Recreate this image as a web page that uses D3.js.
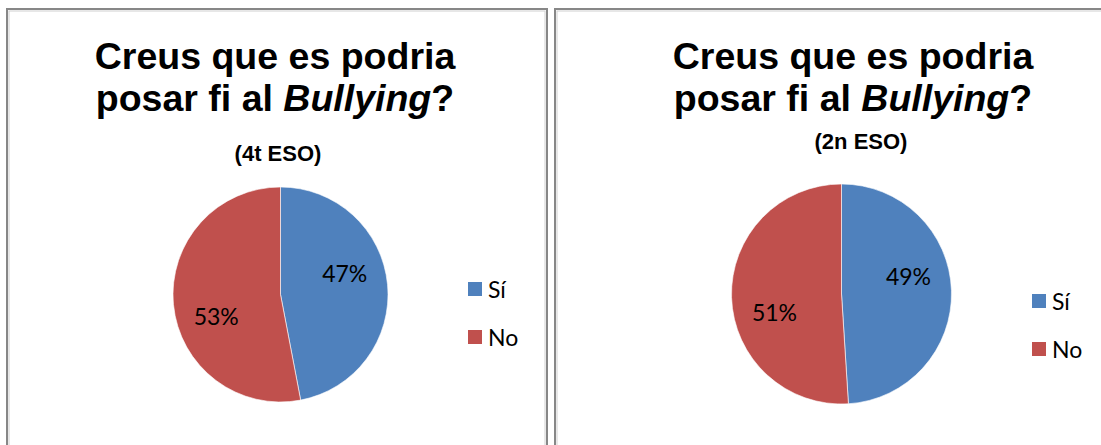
<!DOCTYPE html>
<html lang="ca">
<head>
<meta charset="UTF-8">
<title>Creus que es podria posar fi al Bullying?</title>
<style>
  body { margin: 0; background: #fff; }
  svg { display: block; }
</style>
</head>
<body>
<div class="chart"></div>
<script src="https://d3js.org/d3.v7.min.js"></script>
<script>
// data
var categories = ["Sí", "No"];
var values4t = [47, 53];
var values2n = [49, 51];
var groupLabels = ["(4t ESO)", "(2n ESO)"];
var titleLine1 = "Creus que es podria";
var titleLine2 = ["posar fi al ", "Bullying", "?"];

var colors = d3.scaleOrdinal().domain(categories).range(["#4F81BD", "#C0504D"]);

var width = 1101, height = 445;

var svg = d3.select(".chart").append("svg")
    .attr("width", width)
    .attr("height", height);

// one panel per course
var panels = [
  { x: 7, w: 540, values: values4t, sub: groupLabels[0],
    titleX: 275, subX: 278, subY: 161, cx: 280.5, cy: 294.5, r: 107.5, legX: 468, legY: 282 },
  { x: 555, w: 600, values: values2n, sub: groupLabels[1],
    titleX: 853, subX: 861, subY: 149, cx: 841.5, cy: 294, r: 110, legX: 1032, legY: 294 }
];

var pie = d3.pie().sort(null).value(function(d) { return d.value; });

panels.forEach(function(p) {
  var g = svg.append("g");

  // frame (dark line with a faint light edge inside)
  g.append("rect")
    .attr("x", p.x + 2).attr("y", 11)
    .attr("width", p.w - 4).attr("height", 600)
    .style("fill", "none").style("stroke", "#d0d0d0").style("stroke-width", 1);
  g.append("rect")
    .attr("x", p.x).attr("y", 9)
    .attr("width", p.w).attr("height", 600)
    .style("fill", "none").style("stroke", "#878787").style("stroke-width", 2);

  // title
  var t = g.append("text")
    .attr("text-anchor", "middle")
    .style("font-family", "Liberation Sans, Arial, sans-serif")
    .style("font-weight", "bold")
    .style("font-size", "37.5px")
    .style("fill", "#000");
  t.append("tspan").attr("x", p.titleX).attr("y", 69).text(titleLine1);
  var l2 = t.append("tspan").attr("x", p.titleX).attr("y", 111);
  l2.append("tspan").text(titleLine2[0]);
  l2.append("tspan").style("font-style", "italic").text(titleLine2[1]);
  l2.append("tspan").text(titleLine2[2]);

  g.append("text")
    .attr("x", p.subX).attr("y", p.subY)
    .attr("text-anchor", "middle")
    .style("font-family", "Liberation Sans, Arial, sans-serif")
    .style("font-weight", "bold")
    .style("font-size", "22px")
    .text(p.sub);

  // pie
  var rows = categories.map(function(c, i) { return { key: c, value: p.values[i] }; });
  var arcs = pie(rows);
  var arc = d3.arc().innerRadius(0).outerRadius(p.r);

  var pg = g.append("g").attr("transform", "translate(" + p.cx + "," + p.cy + ")");
  pg.selectAll("path")
    .data(arcs)
    .enter().append("path")
    .attr("d", arc)
    .style("fill", function(d) { return colors(d.data.key); })
    .style("stroke", "#fff")
    .style("stroke-width", 0.6);

  // labels sit a bit counter-clockwise of the slice middle, like the original
  var shift = -13 * Math.PI / 180;
  var lr = p.r * 0.63;
  pg.selectAll("text")
    .data(arcs)
    .enter().append("text")
    .attr("x", function(d) { return lr * Math.sin((d.startAngle + d.endAngle) / 2 + shift); })
    .attr("y", function(d) { return -lr * Math.cos((d.startAngle + d.endAngle) / 2 + shift); })
    .attr("text-anchor", "middle")
    .attr("dominant-baseline", "central")
    .style("font-family", "Lato, Open Sans, sans-serif")
    .style("font-size", "23px")
    .style("fill", "#000")
    .text(function(d) { return d.data.value + "%"; });

  // legend
  var leg = g.selectAll(".leg")
    .data(categories)
    .enter().append("g")
    .attr("transform", function(d, i) { return "translate(" + p.legX + "," + (p.legY + i * 48) + ")"; });
  leg.append("rect")
    .attr("width", 14).attr("height", 14)
    .style("fill", function(d) { return colors(d); });
  leg.append("text")
    .attr("x", 20).attr("y", 7)
    .attr("dominant-baseline", "central")
    .style("font-family", "Lato, Open Sans, sans-serif")
    .style("font-size", "23px")
    .text(function(d) { return d; });
});
</script>
</body>
</html>
